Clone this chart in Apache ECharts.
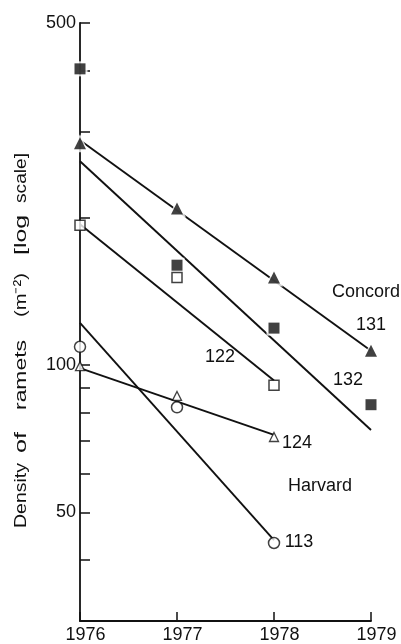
<!DOCTYPE html>
<html>
<head>
<meta charset="utf-8">
<script src="https://cdn.jsdelivr.net/npm/echarts@6/dist/echarts.min.js"></script>
<style>
  html, body { margin: 0; padding: 0; background: #fff; }
  #chart { width: 401px; height: 644px; }
</style>
</head>
<body>
<div id="chart"></div>
<script>
// Census years
const years = [1976, 1977, 1978, 1979];

// Ramet densities (per m²) by clone
const concord131 = [284, 209, 151, 107];
const concord132 = [403, 160, 119, 83];
const harvard122 = [193, 151, 91];
const harvard113 = [109, 82, 43.3];
const harvard124 = [99.5, 86.5, 71.3];

// Fitted decline lines: [start year, end year] and [start value, end value]
const fit131Years = [1976, 1979], fit131 = [288, 107];
const fit132Years = [1976, 1979], fit132 = [261, 73.7];
const fit122Years = [1976, 1978], fit122 = [194, 93];
const fit113Years = [1976, 1978], fit113 = [122, 43.9];
const fit124Years = [1976, 1978], fit124 = [98.6, 72];

// Axis ticks
const xTicks = [1976, 1977, 1978, 1979];
const yTicks = [40, 50, 60, 70, 80, 90, 100, 200, 300, 400, 500];
const yTickLabels = [50, 100, 500];

const FONT = '"Liberation Sans", Arial, sans-serif';
const INK = '#111';

const pairs = (xs, ys) => ys.map((v, i) => [xs[i], v]);

function fitLine(xs, ys) {
  return {
    type: 'line', data: pairs(xs, ys), symbol: 'none', silent: true, z: 2,
    lineStyle: { color: INK, width: 1.9 }
  };
}
function markers(ys, symbol, size, filled, borderW) {
  return {
    type: 'scatter', data: pairs(years, ys), symbol: symbol, symbolSize: size, z: 4,
    itemStyle: filled
      ? { color: INK }
      : { color: '#fff', borderColor: INK, borderWidth: borderW }
  };
}
function halo(ys, symbol, size) {
  return {
    type: 'scatter', data: pairs(years, ys), symbol: symbol, symbolSize: size, z: 3,
    itemStyle: { color: '#fff' }
  };
}

// Axis title words laid along the left edge, bottom to top
const titleWords = [
  { t: 'Density', from: 528, to: 463 },
  { t: 'of', from: 453, to: 432 },
  { t: 'ramets', from: 410, to: 340 },
  { t: '(m\u207B\u00B2)', from: 317, to: 273 },
  { t: '[log', from: 255, to: 215 },
  { t: 'scale]', from: 203, to: 153 }
];
const measure = document.createElement('canvas').getContext('2d');
const TITLE_SIZE = 17;
measure.font = TITLE_SIZE + 'px ' + FONT;
const titleBase = 528;
const titleChildren = titleWords.map(w => {
  const natural = measure.measureText(w.t).width;
  return {
    type: 'text',
    x: titleBase - w.from,
    scaleX: (w.from - w.to) / natural,
    style: {
      text: w.t, x: 0, y: 0, align: 'left', verticalAlign: 'middle',
      font: TITLE_SIZE + 'px ' + FONT, fill: INK
    }
  };
});

function label(text, cx, cy) {
  return {
    type: 'text', x: cx, y: cy, z: 10,
    style: { text: text, align: 'center', verticalAlign: 'middle',
             font: '18px ' + FONT, fill: INK }
  };
}

const chart = echarts.init(document.getElementById('chart'), null, { renderer: 'canvas' });
chart.setOption({
  animation: false,
  backgroundColor: '#fff',
  grid: { left: 80, right: 30, top: 23, bottom: 23, containLabel: false, outerBoundsMode: 'none' },
  xAxis: {
    type: 'value', min: 1976, max: 1979, interval: 1,
    axisLine: { show: true, lineStyle: { color: INK, width: 1.8 } },
    axisTick: { show: true, inside: true, length: 9, lineStyle: { color: INK, width: 1.5 },
                customValues: xTicks },
    axisLabel: { fontFamily: FONT, fontSize: 18, color: INK, margin: 5,
                 padding: [0, 0, 0, 11], customValues: xTicks,
                 formatter: v => String(v) },
    splitLine: { show: false }
  },
  yAxis: {
    type: 'log', logBase: 10, min: 30, max: 500,
    axisLine: { show: true, lineStyle: { color: INK, width: 1.8 } },
    axisTick: { show: true, inside: true, length: 10, lineStyle: { color: INK, width: 1.5 },
                customValues: yTicks },
    axisLabel: { fontFamily: FONT, fontSize: 18, color: INK, margin: 4,
                 customValues: yTickLabels, formatter: v => String(Math.round(v)) },
    splitLine: { show: false },
    minorTick: { show: false }
  },
  series: [
    fitLine(fit131Years, fit131),
    fitLine(fit132Years, fit132),
    fitLine(fit122Years, fit122),
    fitLine(fit113Years, fit113),
    fitLine(fit124Years, fit124),
    halo(concord131, 'triangle', 18),
    halo(concord132, 'rect', 15),
    markers(concord131, 'triangle', 12, true),
    markers(concord132, 'rect', 11, true),
    markers(harvard122, 'rect', 10, false, 1.5),
    markers(harvard113, 'circle', 11, false, 1.5),
    markers(harvard124, 'triangle', 9, false, 1.3)
  ],
  graphic: [
    { type: 'group', x: 21, y: titleBase, rotation: Math.PI / 2, children: titleChildren },
    label('Concord', 366, 292),
    label('131', 371, 325),
    label('132', 348, 380),
    label('122', 220, 357),
    label('124', 297, 443),
    label('Harvard', 320, 486),
    label('113', 299, 542)
  ]
});
</script>
</body>
</html>
